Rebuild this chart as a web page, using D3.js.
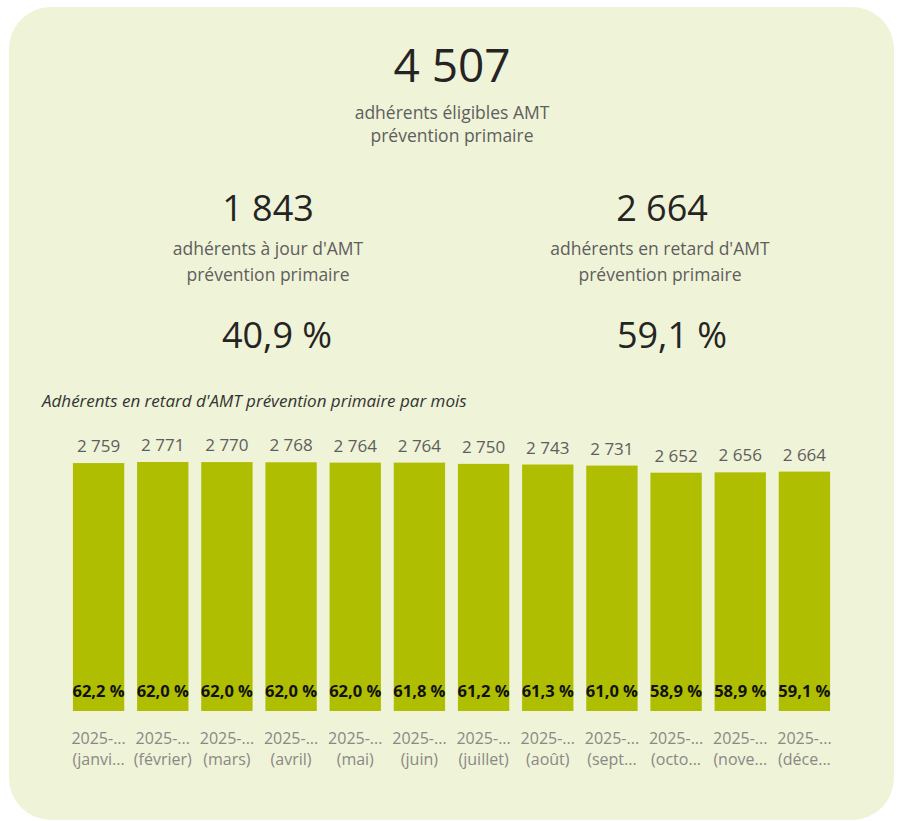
<!DOCTYPE html>
<html><head><meta charset="utf-8">
<script src="https://cdn.jsdelivr.net/npm/d3@7"></script>
<style>
body{margin:0;background:#fff;}
svg{display:block;font-family:"Segoe UI","Open Sans","Noto Sans",sans-serif;}
</style></head>
<body><svg id="c" width="897" height="821"></svg>
<script>
const months = ["2025-01","2025-02","2025-03","2025-04","2025-05","2025-06","2025-07","2025-08","2025-09","2025-10","2025-11","2025-12"];
const yearLabels = ["2025-...","2025-...","2025-...","2025-...","2025-...","2025-...","2025-...","2025-...","2025-...","2025-...","2025-...","2025-..."];
const monthLabels = ["(janvi...","(février)","(mars)","(avril)","(mai)","(juin)","(juillet)","(août)","(sept...","(octo...","(nove...","(déce..."];
const lateCounts = [2759,2771,2770,2768,2764,2764,2750,2743,2731,2652,2656,2664];
const latePct = ["62,2 %","62,0 %","62,0 %","62,0 %","62,0 %","61,8 %","61,2 %","61,3 %","61,0 %","58,9 %","58,9 %","59,1 %"];
const kpiTotal = "4 507";
const kpiUpToDate = "1 843";
const kpiLate = "2 664";
const pctUpToDate = "40,9 %";
const pctLate = "59,1 %";

const svg = d3.select("#c");
svg.append("rect").attr("x",9).attr("y",7).attr("width",885).attr("height",813)
  .attr("rx",42).attr("fill","#eff3d8");

function txt(x,y,s,size,color,opts={}){
  const t = svg.append("text").attr("x",x).attr("y",y).attr("text-anchor",opts.anchor||"middle")
    .attr("font-size",size).attr("fill",color).text(s);
  if(opts.weight) t.attr("font-weight",opts.weight);
  if(opts.italic) t.attr("font-style","italic");
  return t;
}
// KPIs
txt(452,82,kpiTotal,46,"#252423");
txt(452,119,"adhérents éligibles AMT",17.5,"#605e5c");
txt(452,142,"prévention primaire",17.5,"#605e5c");

txt(268,221,kpiUpToDate,36,"#252423");
txt(268,255,"adhérents à jour d'AMT",17.5,"#605e5c");
txt(268,281,"prévention primaire",17.5,"#605e5c");
txt(277,348,pctUpToDate,36,"#252423");

txt(662,221,kpiLate,36,"#252423");
txt(660,255,"adhérents en retard d'AMT",17.5,"#605e5c");
txt(660,281,"prévention primaire",17.5,"#605e5c");
txt(672,348,pctLate,36,"#252423");

txt(42,407,"Adhérents en retard d'AMT prévention primaire par mois",17,"#333",{anchor:"start",italic:true});

// Bar chart
const x = d3.scaleBand().domain(months).range([66.5,836.5]).paddingInner(0.2).paddingOuter(0.1);
const y = d3.scaleLinear().domain([0,2771]).range([711,462]);

const g = svg.append("g");
g.selectAll("rect.bar").data(lateCounts).join("rect").attr("class","bar")
  .attr("x",(d,i)=>x(months[i])).attr("width",x.bandwidth())
  .attr("y",d=>y(d)).attr("height",d=>y(0)-y(d)).attr("fill","#afbe00");

g.selectAll("text.val").data(lateCounts).join("text").attr("class","val")
  .attr("x",(d,i)=>x(months[i])+x.bandwidth()/2).attr("y",d=>y(d)-11)
  .attr("text-anchor","middle").attr("font-size",17).attr("fill","#605e5c")
  .text(d=>d3.format(",")(d).replace(/,/g," "));

g.selectAll("text.pct").data(latePct).join("text").attr("class","pct")
  .attr("x",(d,i)=>x(months[i])+x.bandwidth()/2).attr("y",697)
  .attr("text-anchor","middle").attr("font-size",16.5).attr("font-weight","bold").attr("fill","#111")
  .text(d=>d);

const ax = svg.append("g").attr("transform","translate(0,711)")
  .call(d3.axisBottom(x).tickSize(0).tickPadding(0).tickFormat(""));
ax.select(".domain").remove();
ax.selectAll(".tick text").each(function(d,i){
  const t = d3.select(this).attr("font-size",16).attr("fill","#8a8886")
    .attr("font-family","\"Segoe UI\",\"Open Sans\",\"Noto Sans\",sans-serif").attr("dy",null).attr("y",0);
  t.append("tspan").attr("x",0).attr("y",33).text(yearLabels[i]);
  t.append("tspan").attr("x",0).attr("y",54).text(monthLabels[i]);
});
</script></body></html>
